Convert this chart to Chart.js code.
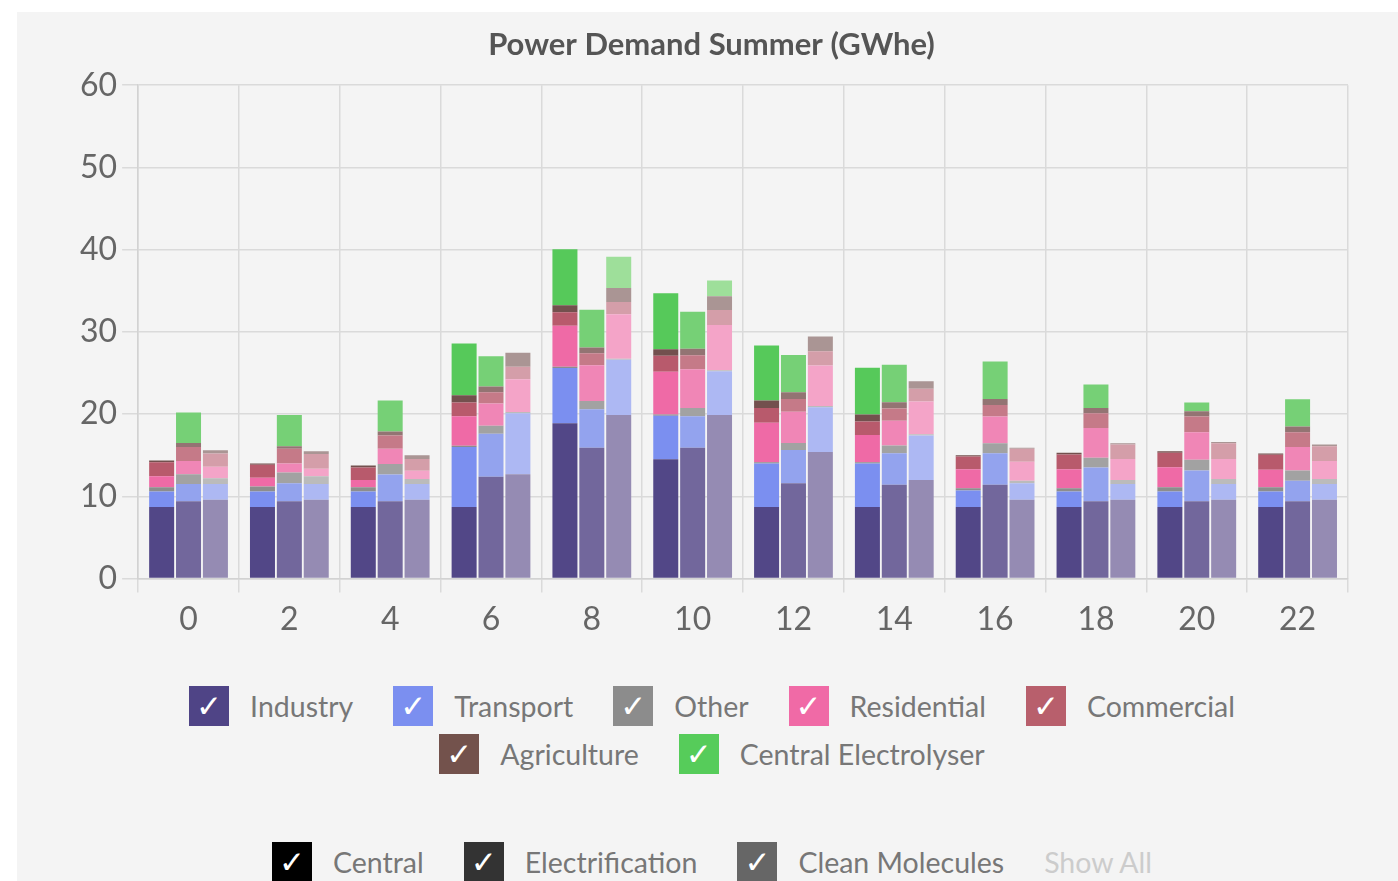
<!DOCTYPE html>
<html>
<head>
<meta charset="utf-8">
<script src="https://cdn.jsdelivr.net/npm/chart.js@4"></script>
<style>
  body { margin: 0; background: #fff; font-family: Lato, sans-serif; }
  #panel { position: absolute; left: 17px; top: 12px; width: 1381px; height: 869px; background: #f4f4f4; overflow: hidden; }
  #chart { position: absolute; left: 0; top: 0; }
  .row { position: absolute; left: 0; width: 1390px; display: flex; justify-content: center; align-items: center; }
  .item { display: flex; align-items: center; margin: 0 20px; font-size: 28.5px; color: #777; }
  .box { width: 40px; height: 40px; color: #fff; font-family: 'DejaVu Sans'; font-size: 31px; line-height: 40px; text-align: center; margin-right: 21px; }
  .showall { color: #ccc; margin-left: 20px; font-size: 28.5px; }
</style>
</head>
<body>
<div id="panel">
  <canvas id="chart" width="1381" height="640"></canvas>
  <div class="row" id="row1" style="top:674px"></div>
  <div class="row" id="row2" style="top:722px"></div>
  <div class="row" id="row3" style="top:830px; left:-10px"></div>
</div>
<script>
const hours = ['0', '2', '4', '6', '8', '10', '12', '14', '16', '18', '20', '22'];
const sectors = ['Industry', 'Transport', 'Other', 'Residential', 'Commercial', 'Agriculture', 'Central Electrolyser'];
const scenarios = ['Central', 'Electrification', 'Clean Molecules'];

// GWhe per sector, one array per scenario (Central / Electrification / Clean Molecules)
const industryC = [8.7, 8.7, 8.7, 8.7, 18.9, 14.5, 8.7, 8.7, 8.7, 8.7, 8.7, 8.7];
const industryE = [9.4, 9.4, 9.4, 12.4, 15.9, 15.9, 11.6, 11.4, 11.4, 9.4, 9.4, 9.4];
const industryM = [9.6, 9.6, 9.6, 12.7, 19.9, 19.9, 15.4, 12.0, 9.6, 9.6, 9.6, 9.6];

const transportC = [1.9, 1.9, 1.9, 7.3, 6.7, 5.3, 5.3, 5.3, 2.0, 1.9, 1.9, 1.9];
const transportE = [2.1, 2.2, 3.25, 5.2, 4.7, 3.85, 4.05, 3.85, 3.85, 4.1, 3.75, 2.5];
const transportM = [1.9, 1.9, 1.9, 7.4, 6.7, 5.3, 5.45, 5.4, 2.0, 1.9, 1.9, 1.9];

const otherC = [0.5, 0.6, 0.5, 0.15, 0.15, 0.15, 0.15, 0.15, 0.3, 0.4, 0.5, 0.5];
const otherE = [1.2, 1.3, 1.3, 1.0, 1.0, 1.0, 0.85, 0.95, 1.2, 1.2, 1.3, 1.25];
const otherM = [0.7, 0.95, 0.6, 0.15, 0.15, 0.15, 0.15, 0.15, 0.3, 0.5, 0.6, 0.6];

const residentialC = [1.35, 1.05, 0.9, 3.6, 5.0, 5.2, 4.8, 3.3, 2.3, 2.3, 2.45, 2.15];
const residentialE = [1.6, 1.1, 1.85, 2.7, 4.35, 4.7, 3.8, 3.0, 3.25, 3.6, 3.35, 2.85];
const residentialM = [1.4, 0.9, 1.0, 4.0, 5.4, 5.5, 4.9, 4.0, 2.3, 2.55, 2.45, 2.2];

const commercialC = [1.7, 1.6, 1.5, 1.65, 1.65, 1.95, 1.8, 1.65, 1.55, 1.8, 1.75, 1.8];
const commercialE = [1.7, 1.8, 1.6, 1.35, 1.45, 1.7, 1.55, 1.5, 1.4, 1.8, 1.9, 1.8];
const commercialM = [1.6, 1.8, 1.45, 1.5, 1.5, 1.8, 1.75, 1.55, 1.6, 1.75, 1.9, 1.8];

const agricultureC = [0.2, 0.15, 0.25, 0.9, 0.85, 0.8, 0.9, 0.85, 0.15, 0.2, 0.2, 0.15];
const agricultureE = [0.5, 0.3, 0.5, 0.7, 0.7, 0.8, 0.8, 0.75, 0.75, 0.65, 0.65, 0.7];
const agricultureM = [0.4, 0.35, 0.45, 1.7, 1.7, 1.7, 1.8, 0.9, 0.1, 0.15, 0.15, 0.2];

const electrolyserC = [0, 0, 0, 6.3, 6.8, 6.8, 6.7, 5.7, 0, 0, 0, 0];
const electrolyserE = [3.7, 3.8, 3.75, 3.7, 4.6, 4.5, 4.55, 4.55, 4.55, 2.85, 1.05, 3.3];
const electrolyserM = [0, 0, 0, 0, 3.8, 1.9, 0, 0, 0, 0, 0, 0];

const seriesData = [
  [industryC, industryE, industryM],
  [transportC, transportE, transportM],
  [otherC, otherE, otherM],
  [residentialC, residentialE, residentialM],
  [commercialC, commercialE, commercialM],
  [agricultureC, agricultureE, agricultureM],
  [electrolyserC, electrolyserE, electrolyserM]
];

// colours: legend swatch, then shades for the three scenarios
const legendColors = ['#4f4486', '#7b8ff0', '#8c8c8c', '#f06aa6', '#b85f6c', '#73524c', '#56cc5a'];
const barColors = [
  ['#524787', '#72679c', '#958bb3'],
  ['#7b8ff0', '#93a3ee', '#adb8f3'],
  ['#8d8d8d', '#a2a2a2', '#bbbbbb'],
  ['#ef6aa6', '#f086b6', '#f4a4c8'],
  ['#b85a6c', '#c57a88', '#d49ea9'],
  ['#73504e', '#937473', '#aa9594'],
  ['#56c95a', '#76d076', '#9edf9a']
];
const scenarioColors = ['#000000', '#333333', '#666666'];

const datasets = [];
scenarios.forEach((sc, j) => {
  sectors.forEach((name, i) => {
    datasets.push({
      label: name + ' (' + sc + ')',
      data: seriesData[i][j],
      stack: sc,
      backgroundColor: barColors[i][j],
      borderWidth: 0,
      categoryPercentage: 0.8,
      barPercentage: 0.93
    });
  });
});

const tickFont = { family: 'Lato', size: 32 };
new Chart(document.getElementById('chart'), {
  type: 'bar',
  data: { labels: hours, datasets: datasets },
  options: {
    responsive: false,
    animation: false,
    layout: { padding: { left: 58, right: 50, bottom: 5 } },
    plugins: {
      legend: { display: false },
      tooltip: { enabled: false },
      title: {
        display: true,
        text: 'Power Demand Summer (GWhe)',
        color: '#555',
        font: { family: 'Lato', size: 31, weight: 'bold' },
        padding: { top: 14, bottom: 22 }
      }
    },
    scales: {
      x: {
        stacked: true,
        grid: { color: '#dadada', lineWidth: 1.5, tickLength: 14 },
        border: { color: '#d2d2d2', width: 1.5 },
        ticks: { color: '#666', font: tickFont, padding: 8 }
      },
      y: {
        stacked: true,
        min: 0,
        max: 60,
        grid: { color: '#dadada', lineWidth: 1.5, tickLength: 16 },
        border: { color: '#d2d2d2', width: 1.5 },
        ticks: { stepSize: 10, color: '#666', font: tickFont, padding: 5 }
      }
    }
  }
});

// HTML legend
function addItem(row, label, color) {
  const item = document.createElement('div');
  item.className = 'item';
  item.innerHTML = '<div class="box" style="background:' + color + '">\u2713</div><span>' + label + '</span>';
  row.appendChild(item);
}
const row1 = document.getElementById('row1');
const row2 = document.getElementById('row2');
sectors.forEach((name, i) => addItem(i < 5 ? row1 : row2, name, legendColors[i]));
const row3 = document.getElementById('row3');
scenarios.forEach((sc, j) => addItem(row3, sc, scenarioColors[j]));
const sa = document.createElement('span');
sa.className = 'showall';
sa.textContent = 'Show All';
row3.appendChild(sa);
</script>
</body>
</html>
